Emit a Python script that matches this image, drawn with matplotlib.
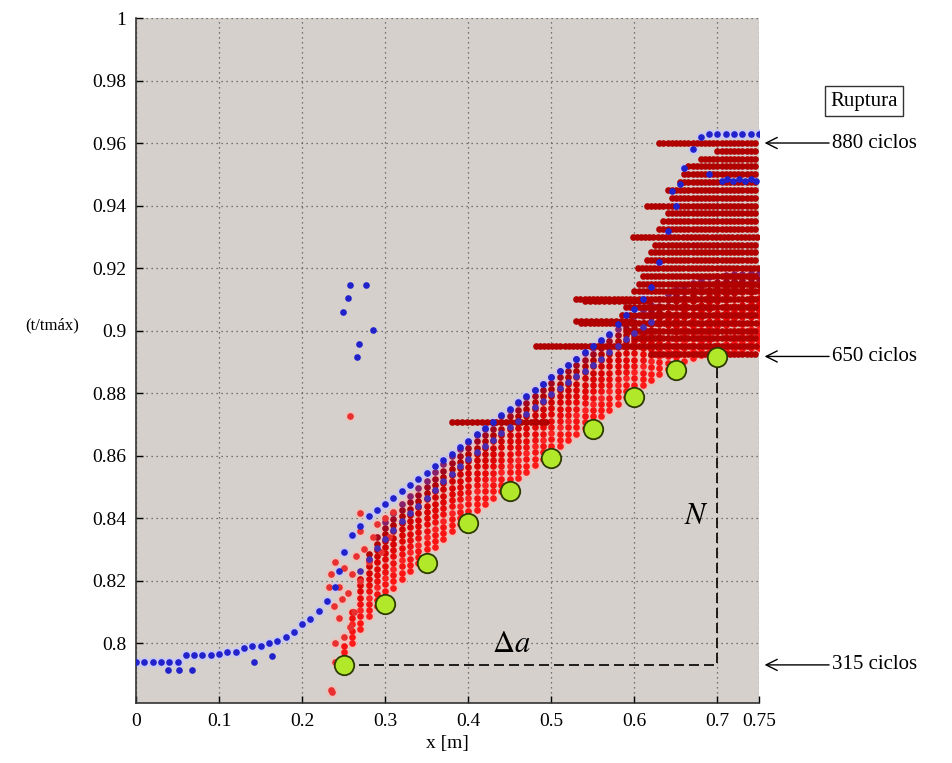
import numpy as np
import matplotlib
matplotlib.use('Agg')
import matplotlib.pyplot as plt

plt.rcParams['font.family'] = ['Liberation Serif', 'DejaVu Serif']
plt.rcParams['mathtext.fontset'] = 'stix'

# lower edge of the red band (runs along the green markers)
BAND_X = [0.25, 0.26, 0.27, 0.28, 0.29, 0.30, 0.31, 0.32, 0.33, 0.34,
          0.35, 0.36, 0.37, 0.38, 0.39, 0.40, 0.41, 0.42, 0.43, 0.44,
          0.45, 0.46, 0.47, 0.48, 0.49, 0.50, 0.51, 0.52, 0.53, 0.54,
          0.55, 0.56, 0.57, 0.58, 0.59, 0.60, 0.61, 0.62, 0.63, 0.64,
          0.65, 0.66, 0.67, 0.68, 0.69, 0.70, 0.71, 0.72, 0.73, 0.74, 0.75]
BAND_Y = [0.7930, 0.7980, 0.8025, 0.8065, 0.8098, 0.8128, 0.8157, 0.8185, 0.8210, 0.8235,
          0.8260, 0.8286, 0.8312, 0.8337, 0.8360, 0.8384, 0.8405, 0.8425, 0.8445, 0.8466,
          0.8486, 0.8507, 0.8528, 0.8550, 0.8570, 0.8592, 0.8610, 0.8630, 0.8650, 0.8667,
          0.8685, 0.8705, 0.8725, 0.8746, 0.8767, 0.8787, 0.8805, 0.8822, 0.8840, 0.8857,
          0.8874, 0.8884, 0.8893, 0.8902, 0.8910, 0.8915, 0.8918, 0.8920, 0.8922, 0.8924, 0.8925]

# each red cycle curve sits this far above the lower edge, starting at BAND_START
BAND_OFFSETS = [0.0020, 0.0040, 0.0060, 0.0080, 0.0100, 0.0120, 0.0140,
                0.0160, 0.0180, 0.0200, 0.0220, 0.0240, 0.0260]
BAND_START = [0.25, 0.25, 0.25, 0.26, 0.26, 0.26, 0.27, 0.27, 0.27, 0.28, 0.28, 0.29, 0.30]

# blue curve (first cycle)
BLUE_X = [0.00, 0.01, 0.02, 0.03, 0.04, 0.05, 0.06, 0.07, 0.08, 0.09,
          0.10, 0.11, 0.12, 0.13, 0.14, 0.15, 0.16, 0.17, 0.18, 0.19,
          0.20, 0.21, 0.22, 0.23, 0.24, 0.245, 0.25, 0.26, 0.27, 0.28,
          0.29, 0.30, 0.31, 0.32, 0.33, 0.34, 0.35, 0.36, 0.37, 0.38,
          0.39, 0.40, 0.41, 0.42, 0.43, 0.44, 0.45, 0.46, 0.47, 0.48,
          0.49, 0.50, 0.51, 0.52, 0.53, 0.54, 0.55, 0.56, 0.57, 0.58,
          0.59, 0.60, 0.61, 0.62, 0.63, 0.64, 0.65, 0.66, 0.67, 0.68,
          0.69, 0.70, 0.71, 0.72, 0.73, 0.74, 0.75]
BLUE_Y = [0.7940, 0.7940, 0.7940, 0.7940, 0.7940, 0.7940, 0.7962, 0.7962, 0.7962, 0.7962,
          0.7965, 0.7972, 0.7972, 0.7985, 0.7990, 0.7990, 0.8000, 0.8005, 0.8020, 0.8035,
          0.8060, 0.8078, 0.8103, 0.8135, 0.8180, 0.8230, 0.8290, 0.8345, 0.8375, 0.8405,
          0.8425, 0.8445, 0.8465, 0.8485, 0.8505, 0.8525, 0.8545, 0.8565, 0.8585, 0.8605,
          0.8627, 0.8648, 0.8668, 0.8688, 0.8708, 0.8730, 0.8750, 0.8770, 0.8790, 0.8810,
          0.8830, 0.8850, 0.8870, 0.8890, 0.8910, 0.8930, 0.8950, 0.8970, 0.8990, 0.9020,
          0.9050, 0.9070, 0.9100, 0.9140, 0.9220, 0.9320, 0.9400, 0.9520, 0.9580, 0.9620,
          0.9630, 0.9630, 0.9630, 0.9630, 0.9630, 0.9630, 0.9630]
BLUE2_OFFSET = 0.0205
BLUE_EXTRA_X = [0.038, 0.052, 0.067, 0.142, 0.164, 0.258, 0.2765, 0.2554, 0.2495,
                0.2848, 0.269, 0.266, 0.705, 0.712, 0.719, 0.726, 0.733, 0.740, 0.747,
                0.645, 0.655, 0.69]
BLUE_EXTRA_Y = [0.7914, 0.7914, 0.7914, 0.7940, 0.7960, 0.9147, 0.9147, 0.9105, 0.9060,
                0.9002, 0.8956, 0.8916, 0.9480, 0.9485, 0.9480, 0.9485, 0.9480, 0.9485, 0.9480,
                0.9445, 0.9470, 0.9500]

# scattered red points where the curves fan out near x = 0.25
FAN_X = [0.235, 0.240, 0.238, 0.235, 0.240, 0.245, 0.250, 0.245, 0.255, 0.260, 0.262,
         0.265, 0.270, 0.275, 0.280, 0.250, 0.258, 0.240, 0.270, 0.285, 0.290, 0.300,
         0.310, 0.295, 0.305, 0.2696, 0.2355, 0.258, 0.232, 0.248]
FAN_Y = [0.7850, 0.8000, 0.8120, 0.8220, 0.8260, 0.8180, 0.8240, 0.8080, 0.8160, 0.8220,
         0.8100, 0.8280, 0.8200, 0.8300, 0.8260, 0.8020, 0.8050, 0.7940, 0.8360, 0.8340,
         0.8380, 0.8400, 0.8420, 0.8290, 0.8340, 0.8416, 0.7844, 0.8726, 0.8180, 0.8140]

# dark red rows in the upper right (last cycles), left end of each row
CLOUD_Y = [0.9600, 0.9575, 0.9550, 0.9525, 0.9500, 0.9475, 0.9450, 0.9425, 0.9400, 0.9375,
           0.9350, 0.9325, 0.9300, 0.9275, 0.9250, 0.9225, 0.9200, 0.9175, 0.9150, 0.9125,
           0.9100, 0.9075, 0.9050, 0.9025, 0.9000, 0.8975, 0.8950, 0.8925]
CLOUD_X0 = [0.630, 0.700, 0.680, 0.665, 0.660, 0.655, 0.640, 0.645, 0.615, 0.640,
            0.635, 0.630, 0.598, 0.625, 0.620, 0.615, 0.604, 0.610, 0.605, 0.600,
            0.530, 0.590, 0.585, 0.536, 0.590, 0.600, 0.481, 0.620]

# isolated flat rows further left
FLAT_Y = [0.8708, 0.9095, 0.9032]
FLAT_X0 = [0.380, 0.540, 0.530]
FLAT_X1 = [0.500, 0.620, 0.600]

CIRCLE_X = [0.25, 0.30, 0.35, 0.40, 0.45, 0.50, 0.55, 0.60, 0.65, 0.70]
CIRCLE_Y = [0.7930, 0.8125, 0.8256, 0.8384, 0.8486, 0.8592, 0.8685, 0.8787, 0.8874, 0.8915]

CYCLE_LABELS = ['880 ciclos', '650 ciclos', '315 ciclos']
CYCLE_Y = [0.9600, 0.8917, 0.7930]

X_TICKS = [0, 0.1, 0.2, 0.3, 0.4, 0.5, 0.6, 0.7, 0.75]
X_TICK_LABELS = ['0', '0.1', '0.2', '0.3', '0.4', '0.5', '0.6', '0.7', '0.75']
Y_TICKS = [0.8, 0.82, 0.84, 0.86, 0.88, 0.9, 0.92, 0.94, 0.96, 0.98, 1.0]
Y_TICK_LABELS = ['0.8', '0.82', '0.84', '0.86', '0.88', '0.9', '0.92', '0.94', '0.96', '0.98', '1']

band_colors = ['#FF1A1A', '#FF1414', '#F51212', '#FF2222', '#EE1010', '#E80808', '#E00505',
               '#D80000', '#CC0000', '#C00000', '#B20000', '#A2061E', '#86206A']
dot = dict(marker='o', linestyle='none', markersize=4.8, markeredgewidth=0)
halo = dict(marker='o', linestyle='none', markersize=7.5, markeredgewidth=0,
            color='#EBC3BC', zorder=1.5)

fig = plt.figure(figsize=(9.53, 7.63), dpi=100)
ax = fig.add_axes([0.1427, 0.0786, 0.6537, 0.8978])
ax.set_facecolor('#D5D0CB')

bx = np.array(BAND_X)
by = np.array(BAND_Y)
for off, start, col in zip(BAND_OFFSETS, BAND_START, band_colors):
    m = bx >= start - 1e-9
    ax.plot(bx[m], by[m] + off, **halo)
    ax.plot(bx[m], by[m] + off, color=col, zorder=2, **dot)

ax.plot(FAN_X, FAN_Y, **halo)
ax.plot(FAN_X, FAN_Y, color='#E83030', zorder=2, **dot)

for y0, x0 in zip(CLOUD_Y, CLOUD_X0):
    xs = np.arange(x0, 0.749, 0.005)
    ax.plot(xs, np.full(len(xs), y0), color='#B00000', zorder=2.2, **dot)
for y0, x0, x1 in zip(FLAT_Y, FLAT_X0, FLAT_X1):
    xs = np.arange(x0, x1, 0.006)
    ax.plot(xs, np.full(len(xs), y0), color='#B00000', zorder=2.2, **dot)

m = (bx >= 0.27) & (bx <= 0.62)
ax.plot(bx[m], by[m] + BLUE2_OFFSET, color='#4A2AB0', zorder=2.5, **dot)
ax.plot(BLUE_X, BLUE_Y, color='#C8C8F0', markersize=7.5, marker='o', linestyle='none',
        markeredgewidth=0, zorder=1.6)
ax.plot(BLUE_X, BLUE_Y, color='#2222CC', zorder=3, **dot)
ax.plot(BLUE_EXTRA_X, BLUE_EXTRA_Y, color='#2222CC', zorder=3, **dot)

# dashed guide for delta a and N
ax.plot([CIRCLE_X[0], CIRCLE_X[-1], CIRCLE_X[-1]],
        [CIRCLE_Y[0], CIRCLE_Y[0], CIRCLE_Y[-1]],
        color='black', linestyle=(0, (6, 3)), linewidth=1.2, zorder=4)
ax.plot(CIRCLE_X, CIRCLE_Y, marker='o', linestyle='none', markersize=14,
        markerfacecolor='#B2E82A', markeredgecolor='#2F3A00', markeredgewidth=1.3, zorder=5)

ax.text(0.675, 0.8405, r'$N$', fontsize=22, ha='center', va='center')
ax.text(0.452, 0.7995, r'$\Delta a$', fontsize=22, ha='center', va='center')

trans = ax.get_yaxis_transform()
for lab, yv in zip(CYCLE_LABELS, CYCLE_Y):
    ax.annotate(lab, xy=(1.009, yv), xycoords=trans, xytext=(1.117, yv), textcoords=trans,
                ha='left', va='center', fontsize=15,
                arrowprops=dict(arrowstyle='->', color='black', lw=1.0,
                                mutation_scale=20, shrinkA=0, shrinkB=0))
ax.text(1.1685, 0.9734, 'Ruptura', transform=trans, ha='center', va='center', fontsize=15,
        bbox=dict(boxstyle='square,pad=0.25', facecolor='white', edgecolor='#333333', lw=1.0))
ax.text(-0.135, 0.9017, '(t/tmáx)', transform=trans, ha='center', va='center', fontsize=12)

ax.set_xlim(0, 0.75)
ax.set_ylim(0.7808, 1.0)
ax.set_xticks(X_TICKS)
ax.set_xticklabels(X_TICK_LABELS, fontsize=14)
ax.set_yticks(Y_TICKS)
ax.set_yticklabels(Y_TICK_LABELS, fontsize=14)
ax.tick_params(direction='in', length=5, width=1, pad=7)
ax.set_xlabel('x [m]', fontsize=14, labelpad=4)
ax.grid(True, linestyle=(0, (1, 3)), color='#555555', linewidth=0.9)
ax.set_axisbelow(True)
for side in ['top', 'right']:
    ax.spines[side].set_visible(False)
for side in ['left', 'bottom']:
    ax.spines[side].set_linewidth(1.2)
    ax.spines[side].set_color('#333333')

fig.savefig('out.png', dpi=100)
